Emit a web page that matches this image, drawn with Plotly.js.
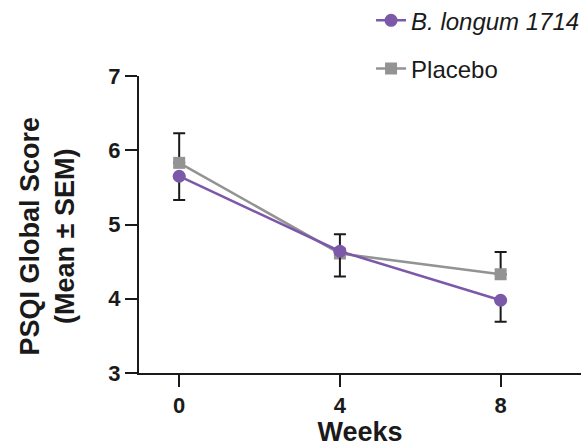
<!DOCTYPE html>
<html>
<head>
<meta charset="utf-8">
<script src="https://cdn.plot.ly/plotly-3.0.1.min.js"></script>
<style>html,body{margin:0;padding:0;background:#fff;}#chart{width:584px;height:447px;}</style>
</head>
<body>
<div id="chart"></div>
<script>
const weeks = [0, 4, 8];
const bifMean = [5.65, 4.64, 3.98];
const bifSemDown = [0.32, 0.34, 0.29];
const placeboMean = [5.83, 4.61, 4.33];
const placeboSemUp = [0.40, 0.26, 0.30];
const seriesNames = ['<i>B. longum 1714</i>', 'Placebo'];
const xTicks = [0, 4, 8];
const yTicks = [3, 4, 5, 6, 7];
const xTitle = 'Weeks';
const yTitleLines = ['PSQI Global Score', '(Mean ± SEM)'];

const FONT = 'Liberation Sans, Arial, Helvetica, sans-serif';
const purple = '#7b58a8';
const grey = '#939393';
const ink = '#1a1a1a';

const placebo = {
  x: weeks, y: placeboMean, name: seriesNames[1], type: 'scatter', mode: 'lines+markers',
  legendgroup: 'p', legendrank: 2,
  line: {color: grey, width: 2.5},
  marker: {symbol: 'square', size: 12, color: grey},
  error_y: {type: 'data', symmetric: false, array: placeboSemUp, arrayminus: [0, 0, 0],
            color: ink, thickness: 2, width: 6}
};
const bif = {
  x: weeks, y: bifMean, name: seriesNames[0], type: 'scatter', mode: 'lines+markers',
  legendgroup: 'b', legendrank: 1,
  line: {color: purple, width: 2.5},
  marker: {symbol: 'circle', size: 13, color: purple},
  error_y: {type: 'data', symmetric: false, array: [0, 0, 0], arrayminus: bifSemDown,
            color: ink, thickness: 2, width: 6}
};

const layout = {
  width: 584, height: 447,
  margin: {l: 139, r: 3, t: 76, b: 74, autoexpand: false},
  paper_bgcolor: '#fff', plot_bgcolor: '#fff',
  font: {family: FONT, color: ink},
  showlegend: true,
  legend: {
    x: 0.525, y: 1.262, xanchor: 'left', yanchor: 'top',
    traceorder: 'grouped', tracegroupgap: 14,
    font: {family: FONT, size: 24, color: ink},
    bgcolor: 'rgba(0,0,0,0)'
  },
  xaxis: {
    range: [-1, 10], tickvals: xTicks, ticktext: xTicks.map(String),
    showgrid: false, zeroline: false, showline: true, linecolor: ink, linewidth: 2,
    ticks: 'outside', ticklen: 12, tickwidth: 2, tickcolor: ink,
    tickfont: {family: FONT, size: 22, color: ink, weight: 'bold'},
    title: {text: '<b>' + xTitle + '</b>', font: {family: FONT, size: 27, color: ink}, standoff: 21}
  },
  yaxis: {
    range: [3, 7], tickvals: yTicks, ticktext: yTicks.map(String),
    showgrid: false, zeroline: false, showline: true, linecolor: ink, linewidth: 2,
    ticks: 'outside', ticklen: 12, tickwidth: 2, tickcolor: ink,
    tickfont: {family: FONT, size: 22, color: ink, weight: 'bold'}
  },
  annotations: [{
    text: '<b>' + yTitleLines.join('<br>') + '</b>',
    xref: 'paper', yref: 'paper', x: 0, y: 0.5, xanchor: 'center', yanchor: 'middle',
    xshift: -92, yshift: -12, textangle: -90, showarrow: false,
    font: {family: FONT, size: 27, color: ink}
  }]
};

Plotly.newPlot('chart', [placebo, bif], layout, {displayModeBar: false, staticPlot: true});
</script>
</body>
</html>
